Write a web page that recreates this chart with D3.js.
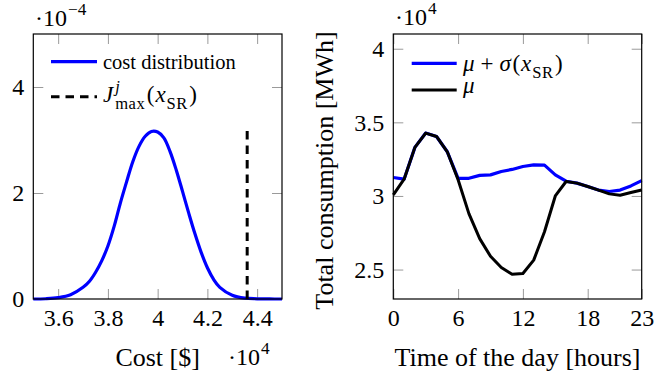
<!DOCTYPE html>
<html>
<head>
<meta charset="utf-8">
<script src="https://cdn.jsdelivr.net/npm/d3@7/dist/d3.min.js"></script>
<style>
  body { margin: 0; background: #fff; }
  svg text { font-family: "Liberation Serif", "Times New Roman", serif !important; fill: #000; }
</style>
</head>
<body>
<svg id="chart" width="654" height="375"></svg>
<script>
// left panel: cost distribution (cost in 1e4 $, density in 1e-4)
const costValues = [3.50, 3.55, 3.60, 3.65, 3.70, 3.725, 3.75, 3.775, 3.80, 3.825, 3.85, 3.875,
  3.90, 3.925, 3.95, 3.975, 4.00, 4.025, 4.05, 4.075, 4.10, 4.125, 4.15, 4.175, 4.20, 4.225,
  4.25, 4.30, 4.35, 4.40, 4.45, 4.50];
const costDensity = [0.0, 0.005, 0.025, 0.08, 0.22, 0.33, 0.50, 0.72, 1.00, 1.37, 1.81, 2.21,
  2.59, 2.88, 3.07, 3.16, 3.15, 3.04, 2.78, 2.43, 2.03, 1.62, 1.23, 0.88, 0.59, 0.37,
  0.22, 0.07, 0.015, 0.004, 0.001, 0.0];
const jMaxCost = 4.36;
const jMaxHeight = 3.17;
const costTicks = [3.6, 3.8, 4, 4.2, 4.4];
const densityTicks = [0, 2, 4];

// right panel: total consumption (1e4 MWh) per hour
const hours = [0, 1, 2, 3, 4, 5, 6, 7, 8, 9, 10, 11, 12, 13, 14, 15, 16, 17, 18, 19, 20, 21, 22, 23];
const muPlusSigma = [3.125, 3.114, 3.33, 3.427, 3.404, 3.30, 3.12, 3.12, 3.14, 3.143, 3.166, 3.18,
  3.20, 3.211, 3.209, 3.143, 3.10, 3.087, 3.064, 3.04, 3.03, 3.04, 3.068, 3.104];
const mu = [3.007, 3.114, 3.33, 3.427, 3.404, 3.30, 3.11, 2.88, 2.71, 2.59, 2.514, 2.468,
  2.473, 2.564, 2.757, 3.00, 3.098, 3.087, 3.064, 3.04, 3.014, 3.005, 3.023, 3.04];
const hourTicks = [0, 6, 12, 18, 23];
const consumptionTicks = [2.5, 3, 3.5, 4];

const svg = d3.select("#chart");
const plotTop = 34, plotBottom = 299;
const tickColor = "#9a9a9a";
const tickFont = 24;
const serif = "'Liberation Serif', 'Times New Roman', serif";

// writes a small math expression piece by piece, returns the end x
function mathText(g, x, y, parts, size) {
  let cx = x;
  parts.forEach(p => {
    if (p.sup !== undefined || p.sub !== undefined) {
      let w = 0;
      if (p.sup) {
        const t = g.append("text").attr("x", cx).attr("y", y - size * 0.45)
          .style("font-family", serif).style("font-size", (size * 0.72) + "px")
          .style("font-style", p.supIt ? "italic" : "normal").text(p.sup);
        w = Math.max(w, t.node().getComputedTextLength());
      }
      if (p.sub) {
        const t = g.append("text").attr("x", cx).attr("y", y + size * 0.3)
          .style("font-family", serif).style("font-size", (size * 0.72) + "px")
          .style("letter-spacing", "0.5px").text(p.sub);
        w = Math.max(w, t.node().getComputedTextLength());
      }
      cx += w + (p.after || 1);
    } else {
      const t = g.append("text").attr("x", cx + (p.before || 0)).attr("y", y)
        .style("font-family", serif).style("font-size", size + "px")
        .style("font-style", p.it ? "italic" : "normal").text(p.t);
      cx += (p.before || 0) + t.node().getComputedTextLength() + (p.after || 0);
    }
  });
  return cx;
}

function styleAxis(g) {
  g.select(".domain").remove();
  g.attr("font-family", null).attr("font-size", null);
  g.selectAll(".tick line").attr("stroke", tickColor).attr("stroke-width", 1);
  g.selectAll(".tick text").style("font-size", tickFont + "px")
    .style("font-family", serif).attr("fill", "#000");
}

function frame(x, y) {
  const [x0, x1] = x.range();
  // inside ticks on all four sides
  svg.append("g").attr("transform", `translate(0,${plotBottom})`)
    .call(d3.axisBottom(x).tickValues(x.ticksList).tickSize(-10).tickPadding(10)
      .tickFormat(x.fmt)).call(styleAxis);
  svg.append("g").attr("transform", `translate(0,${plotTop})`)
    .call(d3.axisTop(x).tickValues(x.ticksList).tickSize(-10).tickFormat("")).call(styleAxis);
  svg.append("g").attr("transform", `translate(${x0},0)`)
    .call(d3.axisLeft(y).tickValues(y.ticksList).tickSize(-10).tickPadding(9)
      .tickFormat(y.fmt)).call(styleAxis);
  svg.append("g").attr("transform", `translate(${x1},0)`)
    .call(d3.axisRight(y).tickValues(y.ticksList).tickSize(-10).tickFormat("")).call(styleAxis);
}

function border(x) {
  const [x0, x1] = x.range();
  svg.append("rect").attr("x", x0).attr("y", plotTop).attr("width", x1 - x0).attr("height", plotBottom - plotTop)
    .attr("fill", "none").attr("stroke", "#000").attr("stroke-width", 1.2);
}

// ---------- left panel ----------
const xCost = d3.scaleLinear().domain([3.5, 4.5]).range([33.3, 282]);
xCost.ticksList = costTicks;
xCost.fmt = d => String(d);
const yDens = d3.scaleLinear().domain([0, 5]).range([plotBottom, plotTop]);
yDens.ticksList = densityTicks;
yDens.fmt = d => String(d);
frame(xCost, yDens);

const costLine = d3.line().x((d, i) => xCost(costValues[i])).y(d => yDens(d)).curve(d3.curveCatmullRom);
svg.append("path").datum(costDensity).attr("d", costLine)
  .attr("fill", "none").attr("stroke", "#0000ff").attr("stroke-width", 3.2).attr("stroke-linejoin", "round");

svg.append("line").attr("x1", xCost(jMaxCost)).attr("x2", xCost(jMaxCost))
  .attr("y1", yDens(0)).attr("y2", yDens(jMaxHeight))
  .attr("stroke", "#000").attr("stroke-width", 3).attr("stroke-dasharray", "8.5,6");
border(xCost);

// legend
const legL = svg.append("g");
legL.append("line").attr("x1", 51).attr("x2", 97).attr("y1", 61.7).attr("y2", 61.7)
  .attr("stroke", "#0000ff").attr("stroke-width", 3.2);
mathText(legL, 103, 69, [{ t: "cost distribution" }], 20.5);
legL.append("line").attr("x1", 51).attr("x2", 97).attr("y1", 96.7).attr("y2", 96.7)
  .attr("stroke", "#000").attr("stroke-width", 3).attr("stroke-dasharray", "8.5,6");
mathText(legL, 103, 102, [
  { t: "J", it: true, after: 2 }, { sup: "j", supIt: true, sub: "max", after: 1.5 },
  { t: "(", after: 1 }, { t: "x", it: true, after: 1 }, { sub: "SR", after: 1.5 }, { t: ")" }
], 23);

// axis label + multipliers
svg.append("text").attr("x", (xCost.range()[0] + xCost.range()[1]) / 2).attr("y", 366)
  .attr("text-anchor", "middle").style("font-family", serif).style("font-size", "26px").text("Cost [$]");
mathText(svg, 35, 26, [{ t: "\u00b710", after: 1 }, { sup: "\u22124" }], 24);
mathText(svg, 228, 365, [{ t: "\u00b710", after: 1 }, { sup: "4" }], 24);

// ---------- right panel ----------
const xHour = d3.scaleLinear().domain([0, 23]).range([393.3, 641.7]);
xHour.ticksList = hourTicks;
xHour.fmt = d => String(d);
const yCons = d3.scaleLinear().domain([2.3, 4.1]).range([plotBottom, plotTop]);
yCons.ticksList = consumptionTicks;
yCons.fmt = d => String(d);
frame(xHour, yCons);

const hourLine = d3.line().x((d, i) => xHour(hours[i])).y(d => yCons(d));
svg.append("path").datum(muPlusSigma).attr("d", hourLine)
  .attr("fill", "none").attr("stroke", "#0000ff").attr("stroke-width", 3.2).attr("stroke-linejoin", "round");
svg.append("path").datum(mu).attr("d", hourLine)
  .attr("fill", "none").attr("stroke", "#000").attr("stroke-width", 3).attr("stroke-linejoin", "round");
border(xHour);

const legR = svg.append("g");
legR.append("line").attr("x1", 411.7).attr("x2", 456.7).attr("y1", 63.3).attr("y2", 63.3)
  .attr("stroke", "#0000ff").attr("stroke-width", 3.2);
mathText(legR, 463, 71, [
  { t: "\u03bc", it: true }, { t: "+", before: 6, after: 6 }, { t: "\u03c3", it: true, after: 1.5 },
  { t: "(", after: 1 }, { t: "x", it: true, after: 1 }, { sub: "SR", after: 1.5 }, { t: ")" }
], 23);
legR.append("line").attr("x1", 411.7).attr("x2", 456.7).attr("y1", 90).attr("y2", 90)
  .attr("stroke", "#000").attr("stroke-width", 3);
mathText(legR, 463, 92.5, [{ t: "\u03bc", it: true }], 23);

svg.append("text").attr("x", (xHour.range()[0] + xHour.range()[1]) / 2).attr("y", 366)
  .attr("text-anchor", "middle").style("font-family", serif).style("font-size", "26px")
  .text("Time of the day [hours]");
svg.append("text").attr("transform", `translate(333,${(plotTop + plotBottom) / 2 + 4}) rotate(-90)`)
  .attr("text-anchor", "middle").style("font-family", serif).style("font-size", "26px")
  .text("Total consumption [MWh]");
mathText(svg, 395, 25, [{ t: "\u00b710", after: 1 }, { sup: "4" }], 24);
</script>
</body>
</html>
